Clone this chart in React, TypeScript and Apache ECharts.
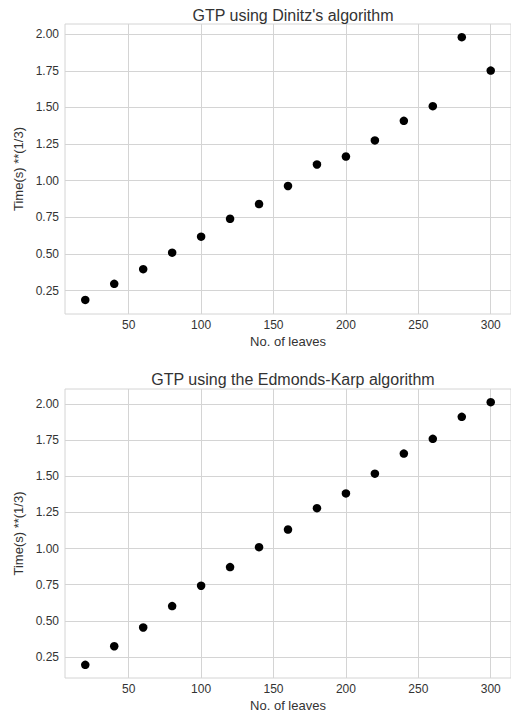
import React, { useEffect, useRef } from "react";
import * as echarts from "echarts";

const leaves = [20, 40, 60, 80, 100, 120, 140, 160, 180, 200, 220, 240, 260, 280, 300];
const dinitzTimes = [0.186, 0.296, 0.396, 0.509, 0.618, 0.740, 0.841, 0.964, 1.111, 1.165, 1.275, 1.409, 1.509, 1.980, 1.752];
const edmondsKarpTimes = [0.195, 0.324, 0.454, 0.602, 0.743, 0.872, 1.010, 1.132, 1.280, 1.382, 1.519, 1.658, 1.760, 1.912, 2.014];
const xTicks = [50, 100, 150, 200, 250, 300];
const yTicks = [0.25, 0.5, 0.75, 1.0, 1.25, 1.5, 1.75, 2.0];
const titles = ["GTP using Dinitz's algorithm", "GTP using the Edmonds-Karp algorithm"];
const xName = "No. of leaves";
const yName = "Time(s) **(1/3)";

const FONT = "Liberation Sans, Arial, sans-serif";
const TEXT = "#333333";
const GRID = "#d4d4d4";

export default function App() {
  const ref = useRef<HTMLDivElement>(null);
  useEffect(() => {
    if (!ref.current) return;
    const chart = echarts.init(ref.current, null, { renderer: "svg" });
    const grids = [
      { left: 65, top: 24, width: 447, height: 290 },
      { left: 65, top: 389, width: 447, height: 289 },
    ];
    const yRanges = [
      [0.09, 2.07],
      [0.104, 2.105],
    ];
    const xAxis = grids.map((_, i) => ({
      type: "value",
      gridIndex: i,
      min: 6,
      max: 314,
      name: xName,
      nameLocation: "middle",
      nameGap: 21,
      nameTextStyle: { color: TEXT, fontSize: 13, fontFamily: FONT },
      axisLine: { show: false },
      axisTick: { show: false, customValues: xTicks },
      axisLabel: {
        customValues: xTicks,
        color: TEXT,
        fontSize: 12,
        fontFamily: FONT,
        margin: 5,
        formatter: (v: number) => String(v),
      },
      splitLine: { show: true, lineStyle: { color: GRID, width: 1 } },
    }));
    const yAxis = grids.map((_, i) => ({
      type: "value",
      gridIndex: i,
      min: yRanges[i][0],
      max: yRanges[i][1],
      name: yName,
      nameLocation: "middle",
      nameGap: 38,
      nameTextStyle: { color: TEXT, fontSize: 13, fontFamily: FONT },
      axisLine: { show: false },
      axisTick: { show: false, customValues: yTicks },
      axisLabel: {
        customValues: yTicks,
        color: TEXT,
        fontSize: 12,
        fontFamily: FONT,
        margin: 6,
        formatter: (v: number) => v.toFixed(2),
      },
      splitLine: { show: true, lineStyle: { color: GRID, width: 1 } },
    }));
    const dataSets = [dinitzTimes, edmondsKarpTimes];
    chart.setOption({
      animation: false,
      backgroundColor: "#ffffff",
      title: titles.map((t, i) => ({
        text: t,
        left: 288,
        top: i === 0 ? 2 : 366,
        textAlign: "center",
        textStyle: { color: TEXT, fontSize: 16, fontWeight: "normal", fontFamily: FONT },
      })),
      grid: grids.map((g) => ({ ...g, show: true, borderColor: GRID, borderWidth: 1, backgroundColor: "transparent" })),
      xAxis,
      yAxis,
      series: dataSets.map((d, i) => ({
        type: "scatter",
        xAxisIndex: i,
        yAxisIndex: i,
        symbol: "circle",
        symbolSize: 8.5,
        itemStyle: { color: "#000000", opacity: 1 },
        data: leaves.map((x, j) => [x, d[j]]),
      })),
    });
    return () => chart.dispose();
  }, []);
  return (
    <div
      ref={ref}
      style={{ position: "fixed", left: 0, top: 0, width: 511, height: 715 }}
    />
  );
}
